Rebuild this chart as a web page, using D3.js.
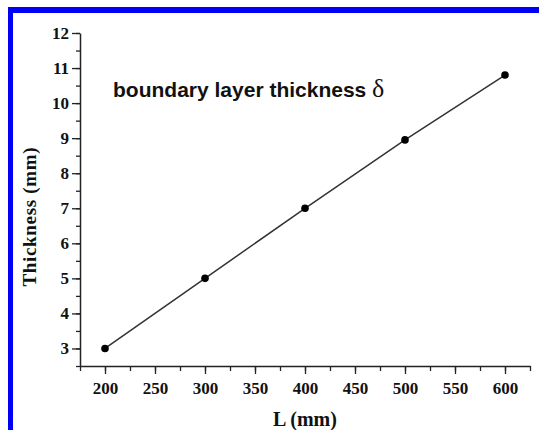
<!DOCTYPE html>
<html>
<head>
<meta charset="utf-8">
<script src="https://cdn.jsdelivr.net/npm/d3@7"></script>
<style>
  body { margin: 0; background: #fff; }
</style>
</head>
<body>
<div id="chart"></div>
<script>
var width  = 539;
var height = 430;

// data
var lengths    = [200, 300, 400, 500, 600];
var thickness  = [3, 5, 7, 8.95, 10.8];
var xTickVals  = [200, 250, 300, 350, 400, 450, 500, 550, 600];
var yTickVals  = [3, 4, 5, 6, 7, 8, 9, 10, 11, 12];
var title      = "boundary layer thickness";

var x = d3.scaleLinear().domain([175, 625]).range([80, 530]);
var y = d3.scaleLinear().domain([2.5, 12]).range([366, 33]);

var svg = d3.select('#chart')
  .append('svg')
  .attr('width', width)
  .attr('height', height);

// blue frame on top and left
svg.append('rect').attr('x', 8).attr('y', 7).attr('width', width - 8).attr('height', 6).attr('fill', '#0000f5');
svg.append('rect').attr('x', 8).attr('y', 7).attr('width', 5).attr('height', height - 7).attr('fill', '#0000f5');

var tickFont = 'bold 17px "Liberation Serif", "Times New Roman", serif';

// minor ticks
svg.append('g')
  .attr('transform', 'translate(0,366)')
  .call(d3.axisBottom(x).tickValues(d3.range(175, 626, 25)).tickSize(5).tickFormat(''))
  .call(function(g) { g.select('.domain').remove(); g.selectAll('line').attr('stroke', '#222').attr('stroke-width', 1.3); });

svg.append('g')
  .attr('transform', 'translate(80,0)')
  .call(d3.axisLeft(y).tickValues(d3.range(2.5, 12.01, 0.5)).tickSize(4).tickFormat(''))
  .call(function(g) { g.select('.domain').remove(); g.selectAll('line').attr('stroke', '#222').attr('stroke-width', 1.3); });

// major ticks
var xAxis = svg.append('g')
  .attr('transform', 'translate(0,366)')
  .call(d3.axisBottom(x).tickValues(xTickVals).tickSize(8).tickSizeOuter(0).tickPadding(8));

var yAxis = svg.append('g')
  .attr('transform', 'translate(80,0)')
  .call(d3.axisLeft(y).tickValues(yTickVals).tickSize(8).tickSizeOuter(0).tickPadding(3));

[xAxis, yAxis].forEach(function(g) {
  g.select('.domain').attr('stroke', '#222').attr('stroke-width', 1.5);
  g.selectAll('line').attr('stroke', '#222').attr('stroke-width', 1.3);
  g.selectAll('text').style('font', tickFont).attr('fill', '#111');
});

// line + points
var line = d3.line()
  .x(function(d, i) { return x(lengths[i]); })
  .y(function(d) { return y(d); });

svg.append('path')
  .datum(thickness)
  .attr('d', line)
  .attr('fill', 'none')
  .attr('stroke', '#333')
  .attr('stroke-width', 1.5);

svg.selectAll('.pt')
  .data(thickness)
  .enter()
  .append('circle')
  .attr('class', 'pt')
  .attr('cx', function(d, i) { return x(lengths[i]); })
  .attr('cy', function(d) { return y(d); })
  .attr('r', 3.8)
  .attr('fill', '#000');

// axis titles
svg.append('text')
  .attr('x', 305)
  .attr('y', 426)
  .attr('text-anchor', 'middle')
  .style('font', 'bold 20px "Liberation Serif", "Times New Roman", serif')
  .attr('fill', '#111')
  .text('L (mm)');

svg.append('text')
  .attr('transform', 'translate(36,217)rotate(-90)')
  .attr('text-anchor', 'middle')
  .attr('textLength', 139)
  .attr('lengthAdjust', 'spacing')
  .style('font', 'bold 19px "Liberation Serif", "Times New Roman", serif')
  .attr('fill', '#111')
  .text('Thickness (mm)');

// annotation
var note = svg.append('text')
  .attr('x', 113)
  .attr('y', 97)
  .attr('fill', '#111');
note.append('tspan')
  .style('font', 'bold 21px "Liberation Sans", Arial, sans-serif')
  .text(title + ' ');
note.append('tspan')
  .style('font', '26px "Liberation Serif", "Times New Roman", serif')
  .text('\u03B4');
</script>
</body>
</html>
